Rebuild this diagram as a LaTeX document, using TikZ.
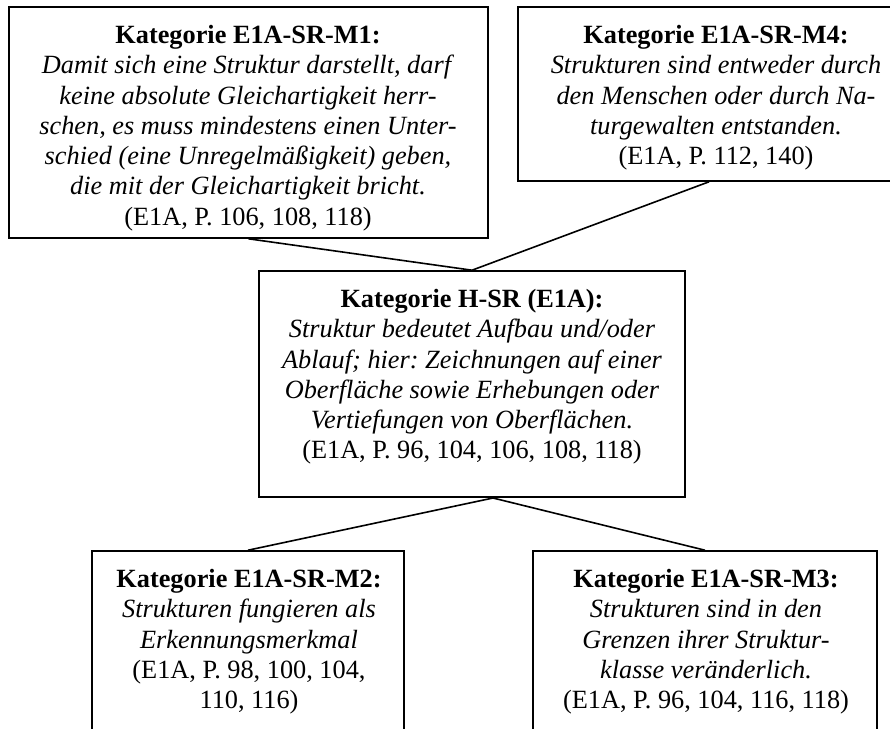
\documentclass[tikz,border=0pt]{standalone}
\usepackage{fontspec}
\setmainfont{Liberation Serif}
\usetikzlibrary{calc}
\frenchspacing
\begin{document}
\begin{tikzpicture}[x=1pt,y=-1pt,
  catbox/.style={draw, rectangle, line width=1.6pt, inner sep=0pt},
  cattext/.style={anchor=north, align=center, inner sep=0pt,
    font=\fontsize{26.3}{30.3}\selectfont\frenchspacing},
  link/.style={line width=1.6pt}]
\useasboundingbox (0,0) rectangle (890,728);

% category boxes
\node[catbox, minimum width=479pt, minimum height=231pt] (m1) at (248.5,122.5) {};
\node[catbox, minimum width=382pt, minimum height=174pt] (m4) at (709,94) {};
\node[catbox, minimum width=426pt, minimum height=226pt] (hsr) at (472,384) {};
\node[catbox, minimum width=312pt, minimum height=190pt] (m2) at (248,646) {};
\node[catbox, minimum width=344pt, minimum height=190pt] (m3) at (705,646) {};

% box texts
\node[cattext] (m1t) at (248,22) {\strut\textbf{Kategorie E1A-SR-M1:}\\
  \textit{Damit sich eine Struktur darstellt, darf}\\
  \textit{keine absolute Gleichartigkeit herr-}\\
  \textit{schen, es muss mindestens einen Unter-}\\
  \textit{schied (eine Unregelmäßigkeit) geben,}\\
  \textit{die mit der Gleichartigkeit bricht.}\\
  (E1A, P. 106, 108, 118)};
\node[cattext] (m4t) at (716,22) {\strut\textbf{Kategorie E1A-SR-M4:}\\
  \textit{Strukturen sind entweder durch}\\
  \textit{den Menschen oder durch Na-}\\
  \textit{turgewalten entstanden.}\\
  (E1A, P. 112, 140)};
\node[cattext] (hsrt) at (472,286) {\strut\textbf{Kategorie H-SR (E1A):}\\
  \textit{Struktur bedeutet Aufbau und/oder}\\
  \textit{Ablauf; hier: Zeichnungen auf einer}\\
  \textit{Oberfläche sowie Erhebungen oder}\\
  \textit{Vertiefungen von Oberflächen.}\\
  (E1A, P. 96, 104, 106, 108, 118)};
\node[cattext] (m2t) at (249,566) {\strut\textbf{Kategorie E1A-SR-M2:}\\
  \textit{Strukturen fungieren als}\\
  \textit{Erkennungsmerkmal}\\
  (E1A, P. 98, 100, 104,\\
  110, 116)};
\node[cattext] (m3t) at (706,566) {\strut\textbf{Kategorie E1A-SR-M3:}\\
  \textit{Strukturen sind in den}\\
  \textit{Grenzen ihrer Struktur-}\\
  \textit{klasse veränderlich.}\\
  (E1A, P. 96, 104, 116, 118)};

% connectors
\coordinate (junction) at (493,498);
\draw[link] (m1.south) -- (hsr.north);
\draw[link] (m4.south) -- (hsr.north);
\draw[link] (junction) -- (m2.north);
\draw[link] (junction) -- (m3.north);
\end{tikzpicture}
\end{document}
